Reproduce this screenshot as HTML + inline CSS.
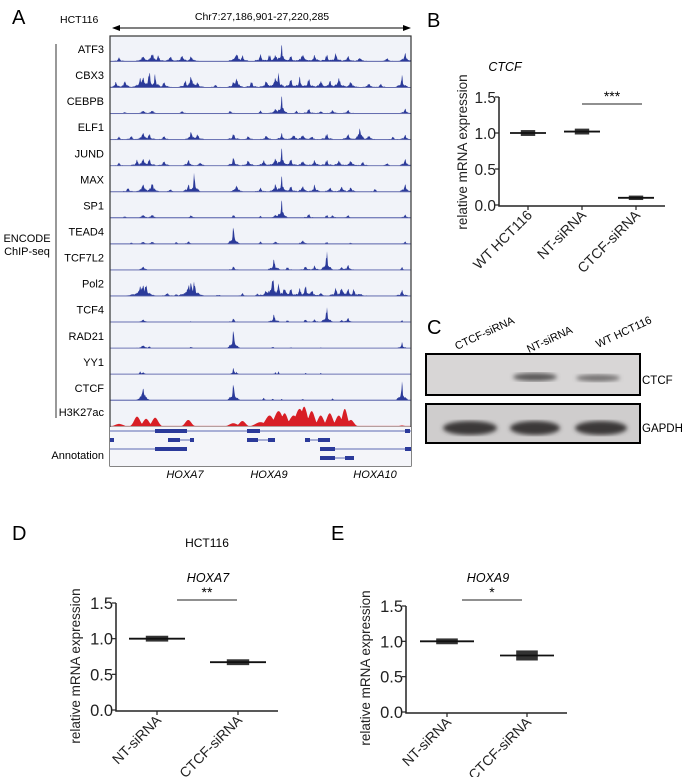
<!DOCTYPE html>
<html><head><meta charset="utf-8"><style>
body{margin:0;background:#fff;}
svg{display:block;font-family:"Liberation Sans",Arial,sans-serif;}
</style></head><body>
<svg id="fig" width="692" height="777" viewBox="0 0 692 777" xmlns="http://www.w3.org/2000/svg">
<defs>
<marker id="ah" markerWidth="8" markerHeight="8" refX="7" refY="4" orient="auto"><path d="M0,1 L8,4 L0,7 Z" fill="#000"/></marker>
<marker id="ah2" markerWidth="8" markerHeight="8" refX="1" refY="4" orient="auto"><path d="M8,1 L0,4 L8,7 Z" fill="#000"/></marker>
<filter id="blur"><feGaussianBlur stdDeviation="2.2"/></filter>
</defs>
<!-- Panel A -->
<text x="12" y="24" font-size="20">A</text>
<text x="60" y="23" font-size="10.5">HCT116</text>
<text x="262" y="20" font-size="10.5" text-anchor="middle">Chr7:27,186,901-27,220,285</text>
<line x1="113" y1="28" x2="410" y2="28" stroke="#000" stroke-width="1" marker-end="url(#ah)" marker-start="url(#ah2)"/>
<g id="tracks"></g>
<rect x="110" y="36" width="301" height="430" fill="none" stroke="#333" stroke-width="1.2"/>
<line x1="56" y1="44" x2="56" y2="418" stroke="#555" stroke-width="1.2"/>
<text x="27" y="242" font-size="11" text-anchor="middle">ENCODE</text>
<text x="27" y="255" font-size="11" text-anchor="middle">ChIP-seq</text>
<text x="104" y="459" font-size="11" text-anchor="end">Annotation</text>
<text x="185" y="478" font-size="11" font-style="italic" text-anchor="middle">HOXA7</text>
<text x="269" y="478" font-size="11" font-style="italic" text-anchor="middle">HOXA9</text>
<text x="375" y="478" font-size="11" font-style="italic" text-anchor="middle">HOXA10</text>
<g id="annot"></g>

<!-- Panel B -->
<text x="427" y="27" font-size="20">B</text>
<g id="chartB"></g>

<!-- Panel C -->
<text x="427" y="334" font-size="20">C</text>
<g>
<text transform="translate(457,350) rotate(-25)" font-size="11">CTCF-siRNA</text>
<text transform="translate(529,353) rotate(-25)" font-size="11">NT-siRNA</text>
<text transform="translate(598,348) rotate(-25)" font-size="11">WT HCT116</text>
<rect x="426" y="354" width="214" height="41" fill="#d8d6d6" stroke="#000" stroke-width="2"/>
<ellipse cx="535" cy="377" rx="22" ry="4" fill="#5a5858" filter="url(#blur)"/>
<ellipse cx="598" cy="378" rx="22" ry="3.5" fill="#747272" filter="url(#blur)"/>
<rect x="426" y="404" width="214" height="39" fill="#cfcdcd" stroke="#000" stroke-width="2"/>
<ellipse cx="470" cy="428" rx="27" ry="7" fill="#3a3838" filter="url(#blur)"/>
<ellipse cx="535" cy="428" rx="25" ry="7" fill="#3a3838" filter="url(#blur)"/>
<ellipse cx="601" cy="428" rx="26" ry="7" fill="#3a3838" filter="url(#blur)"/>
<text x="642" y="384" font-size="11.5">CTCF</text>
<text x="642" y="432" font-size="11.5">GAPDH</text>
</g>

<!-- Panel D / E -->
<text x="12" y="540" font-size="20">D</text>
<text x="207" y="547" font-size="12" text-anchor="middle">HCT116</text>
<text x="331" y="540" font-size="20">E</text>
<g id="chartD"></g>
<g id="chartE"></g>
</svg>
<script>
const NS="http://www.w3.org/2000/svg";
function mk(parent,tag,attrs,text){const e=document.createElementNS(NS,tag);for(const k in attrs)e.setAttribute(k,attrs[k]);if(text!==undefined)e.textContent=text;parent.appendChild(e);return e;}

// ---- Genome track data: [position fraction, relative height, width(px)] ----
const trackNames=["ATF3","CBX3","CEBPB","ELF1","JUND","MAX","SP1","TEAD4","TCF7L2","Pol2","TCF4","RAD21","YY1","CTCF","H3K27ac"];
const pATF3=[[.03,.2,2],[.11,.35,2],[.14,.5,2],[.16,.3,2],[.2,.3,2],[.24,.35,2],[.27,.3,2],[.42,.5,2],[.44,.3,2],[.5,.35,2],[.53,.35,2],[.55,.4,2],[.57,.9,1.2],[.6,.3,2],[.64,.45,2],[.68,.35,2],[.72,.35,2],[.75,.4,2],[.79,.3,2],[.83,.25,2],[.92,.2,2],[.98,.5,1.5]];
const pCBX3=[[.02,.35,1.5],[.05,.45,1.5],[.1,.5,2],[.11,.75,1.5],[.13,.8,2],[.15,.7,1.5],[.18,.3,2],[.25,.35,2],[.27,.65,2],[.29,.3,2],[.35,.15,2],[.41,.3,2],[.42,.65,1.5],[.47,.3,2],[.52,.4,2],[.55,.6,2],[.56,.7,1.5],[.6,.45,2],[.63,.55,1.5],[.66,.45,2],[.7,.4,2],[.73,.45,1.5],[.76,.55,2],[.8,.35,2],[.86,.25,2],[.9,.2,2],[.97,.6,1.5]];
const pCEBPB=[[.05,.1,2],[.11,.2,2],[.14,.2,2],[.24,.15,2],[.4,.15,2],[.5,.15,2],[.55,.3,2],[.57,.95,1.2],[.62,.15,2],[.66,.25,2],[.7,.15,2],[.74,.2,2],[.79,.2,2],[.98,.3,1.5]];
const pELF1=[[.03,.15,2],[.07,.2,2],[.11,.5,1.5],[.13,.3,2],[.18,.2,2],[.27,.5,1.5],[.29,.3,2],[.41,.3,2],[.46,.2,2],[.52,.25,2],[.57,.35,1.5],[.61,.3,2],[.64,.3,2],[.67,.2,2],[.72,.3,2],[.79,.3,2],[.83,.85,1.2],[.86,.25,2],[.94,.15,2],[.98,.3,1.5]];
const pJUND=[[.03,.15,2],[.09,.3,2],[.11,.5,1.5],[.13,.35,2],[.18,.25,2],[.26,.35,1.5],[.3,.2,2],[.41,.45,1.5],[.46,.3,2],[.51,.3,2],[.55,.45,2],[.57,.95,1.2],[.6,.35,2],[.64,.3,2],[.68,.3,2],[.72,.3,2],[.76,.3,2],[.8,.3,2],[.84,.2,2],[.92,.15,2],[.98,.4,1.5]];
const pMAX=[[.06,.2,2],[.11,.55,1.5],[.14,.6,1.5],[.2,.15,2],[.26,.45,1.5],[.28,.95,1.2],[.42,.45,1.5],[.5,.2,2],[.55,.5,1.5],[.57,.85,1.2],[.6,.3,2],[.64,.4,1.5],[.68,.4,1.5],[.73,.25,2],[.77,.35,1.5],[.8,.3,1.5],[.88,.15,2],[.98,.45,1.5]];
const pSP1=[[.05,.1,2],[.11,.2,2],[.14,.2,2],[.27,.15,2],[.41,.15,2],[.5,.1,2],[.55,.2,2],[.57,.95,1.2],[.66,.2,2],[.72,.15,2],[.74,.15,2],[.79,.15,2],[.98,.2,1.5]];
const pTEAD4=[[.07,.08,2],[.11,.15,2],[.14,.15,2],[.22,.1,2],[.26,.15,2],[.41,.95,1.2],[.5,.12,2],[.55,.15,2],[.64,.25,1.5],[.72,.1,2],[.8,.08,2],[.98,.15,1.5]];
const pTCF7L2=[[.11,.25,1.5],[.41,.2,1.5],[.545,.55,1.5],[.59,.15,2],[.65,.2,2],[.68,.25,1.5],[.72,1.0,1.2],[.77,.2,1.5],[.79,.3,1.5],[.97,.15,1.5]];
const pPol2=[[.07,.1,3],[.1,.5,3],[.11,.8,1.5],[.12,.6,2],[.19,.15,3],[.22,.1,3],[.26,.6,2.5],[.27,.85,1.5],[.28,.7,2],[.36,.08,3],[.44,.15,2],[.49,.15,2],[.52,.3,3],[.54,1.0,2],[.56,.6,2],[.58,.5,2],[.6,.4,2],[.63,.4,2],[.65,.6,1.5],[.67,.35,2],[.7,.2,2],[.75,.4,2],[.77,.5,2],[.79,.4,2],[.81,.35,2],[.83,.15,3],[.97,.3,2]];
const pTCF4=[[.11,.2,1.5],[.27,.05,3],[.41,.2,1.5],[.545,.4,1.5],[.59,.1,2],[.65,.15,2],[.68,.15,2],[.72,.8,1.2],[.77,.15,1.5],[.79,.25,1.5],[.97,.1,1.5]];
const pRAD21=[[.11,.2,2],[.13,.1,2],[.27,.08,2],[.41,1.0,1.2],[.54,.08,2],[.6,.05,2],[.7,.05,2],[.97,.3,1.2]];
const pYY1=[[.1,.15,1.5],[.11,.15,1.5],[.41,.4,.8],[.42,.2,.8],[.55,.15,1],[.56,.15,1],[.65,.1,.8],[.7,.1,.8]];
const pCTCF=[[.11,.9,1.3],[.41,.9,1.3],[.51,.15,1.5],[.54,.1,1.5],[.57,.08,1.5],[.64,.1,1.5],[.74,.12,1.5],[.97,.9,1.3]];
const pH3K27ac=[[.03,.12,4],[.09,.45,3],[.12,.35,3],[.15,.4,3],[.26,.3,3],[.41,.15,4],[.44,.25,3],[.5,.2,5],[.53,.5,4],[.56,.7,4],[.58,.6,3],[.61,.5,4],[.63,.8,4],[.645,.9,3],[.67,.7,3],[.7,.5,3],[.73,.6,3],[.76,.5,3],[.78,.8,2.5],[.8,.3,3],[.97,.05,3]];
const trackPeaks=[pATF3,pCBX3,pCEBPB,pELF1,pJUND,pMAX,pSP1,pTEAD4,pTCF7L2,pPol2,pTCF4,pRAD21,pYY1,pCTCF,pH3K27ac];

const TX0=110,TW=301,TY0=36,TH=26.07;
const tg=document.getElementById('tracks');
trackNames.forEach((nm,i)=>{
  const top=TY0+i*TH, base=top+TH-0.5, hmax=TH-4;
  const red=nm==='H3K27ac';
  const bg=mk(tg,'rect',{x:TX0,y:top,width:TW,height:TH,fill:'#f1f3f9'});
  
  
  let d='M'+TX0+','+base;
  for(let px=0;px<=TW;px+=0.5){
    let v=0;
    trackPeaks[i].forEach(p=>{
      const c=p[0]*TW;
      const core=p[1]*Math.exp(-Math.pow((px-c)/(red?p[2]*1.4:p[2]*0.9),2));
      const skirt=red?0:p[1]*0.35*Math.exp(-Math.pow((px-c)/(p[2]*3.5),2));
      const g=Math.max(core,skirt);if(g>v)v=g;});
    // texture (visual jaggedness only)
    const tex=red?1:(0.55+0.45*Math.abs(Math.sin(px*1.93)*Math.cos(px*0.71)));
    v=v*tex;
    v=Math.max(v,0.03);
    d+=' L'+(TX0+px).toFixed(1)+','+(base-v*hmax).toFixed(1);
  }
  d+=' L'+(TX0+TW)+','+base+' Z';
  const p=mk(tg,'path',{d:d,fill:red?'#d81e25':'#2b3a9a'});
  
  
  const bl=mk(tg,'line',{x1:TX0,x2:TX0+TW,y1:base,y2:base,stroke:red?'#b0b0b0':'#7a80b8','stroke-width':0.8});
  
  
  const t=mk(tg,'text',{x:104,y:top+(red?15:17),'font-size':11,'text-anchor':'end'},nm);
  
  
});
// annotation
const ag=document.getElementById('annot');
const annBg=mk(ag,'rect',{x:TX0,y:427,width:TW,height:39,fill:'#f4f5f9'});


const thin=[[431,110,411],[440,110,114],[440,168,194],[440,247,275],[440,305,330],[449,110,187],[449,320,411],[458,320,354]];
thin.forEach(s=>{const l=mk(ag,'line',{x1:s[1],x2:s[2],y1:s[0],y2:s[0],stroke:'#2b3a9a','stroke-width':0.7});});
const thick=[[431,155,187],[431,247,260],[431,405,410],[440,110,114],[440,168,180],[440,190,194],[440,247,258],[440,268,275],[440,305,310],[440,318,330],[449,155,187],[449,320,335],[449,405,411],[458,320,335],[458,345,354]];
thick.forEach(s=>{const r=mk(ag,'rect',{x:s[1],y:s[0]-2,width:s[2]-s[1],height:4,fill:'#2b3a9a'});});

// ---- Dot/box charts ----
function dotChart(gid,cfg){
  const g=document.getElementById(gid);
  const y=v=>cfg.y0-(v/1.5)*(cfg.y0-cfg.y15);
  const ax=mk(g,'path',{d:`M${cfg.ax},${cfg.y15} L${cfg.ax},${cfg.y0+1} L${cfg.axEnd},${cfg.y0+1}`,fill:'none',stroke:'#222','stroke-width':1.5});
  
  cfg.ticks.forEach(t=>{
    const tl=mk(g,'line',{x1:cfg.ax-4,x2:cfg.ax,y1:y(t),y2:y(t),stroke:'#222','stroke-width':1.2});
    
    const tx=mk(g,'text',{x:cfg.ax-3,y:y(t)+6,'font-size':cfg.tf,'text-anchor':'end',fill:'#222'},t.toFixed(1));
    
  });
  const yl=mk(g,'text',{transform:`translate(${cfg.ylx+5},${cfg.yly}) rotate(-90)`,'font-size':13.5,'text-anchor':'middle',fill:'#222'},'relative mRNA expression');
  
  const tt=mk(g,'text',{x:cfg.titleX,y:cfg.titleY,'font-size':12.5,'font-style':'italic','text-anchor':'middle'},cfg.title);
  
  cfg.cats.forEach((c,i)=>{
    const cx=cfg.xs[i];
    const tk=mk(g,'line',{x1:cx,x2:cx,y1:cfg.y0+1,y2:cfg.y0+5,stroke:'#222','stroke-width':1.2});
    
    const lo=y(cfg.lo[i]),hi=y(cfg.hi[i]);
    const bx=mk(g,'rect',{x:cx-cfg.bw*0.4,y:hi-1.5,width:cfg.bw*0.8,height:lo-hi+3,fill:'#333'});
    
    const mn=mk(g,'line',{x1:cx-cfg.bw,x2:cx+cfg.bw,y1:y(cfg.vals[i]),y2:y(cfg.vals[i]),stroke:'#111','stroke-width':1.8});
    
    const lb=mk(g,'text',{transform:`translate(${cx+5},${cfg.y0+11}) rotate(-45)`,'font-size':14,'text-anchor':'end',fill:'#222'},c);
    
  });
  const sl=mk(g,'line',{x1:cfg.sig[0],x2:cfg.sig[1],y1:cfg.sig[2],y2:cfg.sig[2],stroke:'#222','stroke-width':1.1});
  
  const st=mk(g,'text',{x:(cfg.sig[0]+cfg.sig[1])/2,y:cfg.sig[2]-3,'font-size':14,'text-anchor':'middle'},cfg.stars);
  
}
const yTicks=[0,0.5,1.0,1.5];
const catsB=["WT HCT116","NT-siRNA","CTCF-siRNA"];
const valsB=[1.0,1.02,0.1];
const loB=[0.98,1.0,0.09];
const hiB=[1.02,1.04,0.11];
const catsD=["NT-siRNA","CTCF-siRNA"];
const valsD=[1.0,0.67];
const loD=[0.98,0.65];
const hiD=[1.02,0.69];
const catsE=["NT-siRNA","CTCF-siRNA"];
const valsE=[1.0,0.8];
const loE=[0.98,0.75];
const hiE=[1.02,0.85];
dotChart('chartB',{ax:499,axEnd:665,y0:205,y15:97,ticks:yTicks,tf:15.5,ylx:462,yly:152,title:'CTCF',titleX:505,titleY:71,cats:catsB,vals:valsB,lo:loB,hi:hiB,xs:[528,582,636],bw:18,sig:[582,642,104],stars:'***'});
dotChart('chartD',{ax:116,axEnd:278,y0:710,y15:603,ticks:yTicks,tf:16.5,ylx:75,yly:666,title:'HOXA7',titleX:208,titleY:582,cats:catsD,vals:valsD,lo:loD,hi:hiD,xs:[157,238],bw:28,sig:[177,237,600],stars:'**'});
dotChart('chartE',{ax:406,axEnd:567,y0:712,y15:606,ticks:yTicks,tf:16.5,ylx:365,yly:668,title:'HOXA9',titleX:488,titleY:582,cats:catsE,vals:valsE,lo:loE,hi:hiE,xs:[447,527],bw:27,sig:[462,522,600],stars:'*'});
</script>
</body></html>
